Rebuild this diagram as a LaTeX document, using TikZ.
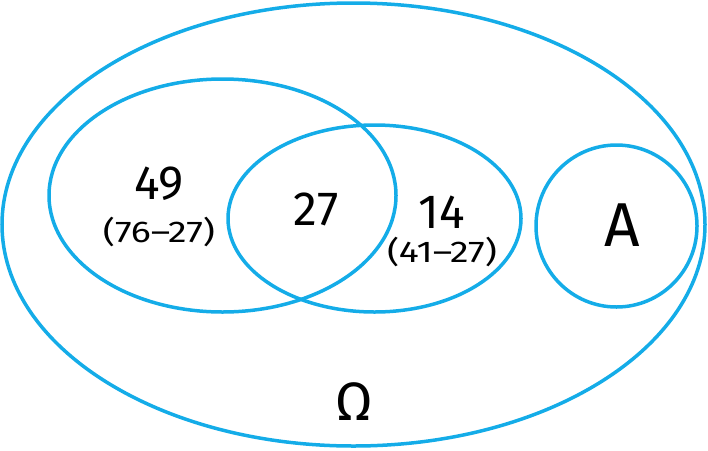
\documentclass[tikz,border=0pt]{standalone}
\usepackage{fontspec}
\usepackage{graphicx}
\setmainfont{Fira Sans}
\usetikzlibrary{shapes.geometric}
\definecolor{setblue}{RGB}{20,172,232}
\tikzset{
  setshape/.style={ellipse, draw=setblue, line width=3.5pt, inner sep=0pt, outer sep=0pt},
  bignum/.style={font=\fontsize{48}{48}\selectfont, inner sep=0pt},
  smallnum/.style={font=\fontsize{30}{30}\selectfont, inner sep=0pt},
  letter/.style={font=\fontsize{62}{62}\selectfont, inner sep=0pt}
}
\begin{document}
\begin{tikzpicture}[x=1pt,y=-1pt]
\useasboundingbox (0,0) rectangle (708,450);
\node[setshape, minimum width=703pt, minimum height=443pt] (omega) at (353.5,224.5) {};
\node[setshape, minimum width=347pt, minimum height=233pt] (left) at (222.5,195.5) {};
\node[setshape, minimum width=293pt, minimum height=187pt] (mid) at (374.5,218.5) {};
\node[setshape, minimum width=161pt, minimum height=162pt] (setA) at (616.5,226) {};
\node[bignum] (n49) at (159,184) {49};
\node[smallnum] (e49) at (159,232) {\scalebox{1.25}[1]{(76–27)}};
\node[bignum] (n27) at (316,209) {27};
\node[bignum] (n14) at (442,212) {14};
\node[smallnum] (e14) at (442,252) {\scalebox{1.25}[1]{(41–27)}};
\node[letter] (lA) at (622,225) {A};
\node[font=\fontsize{54}{54}\selectfont, inner sep=0pt] (lO) at (354,402) {Ω};
\end{tikzpicture}
\end{document}
